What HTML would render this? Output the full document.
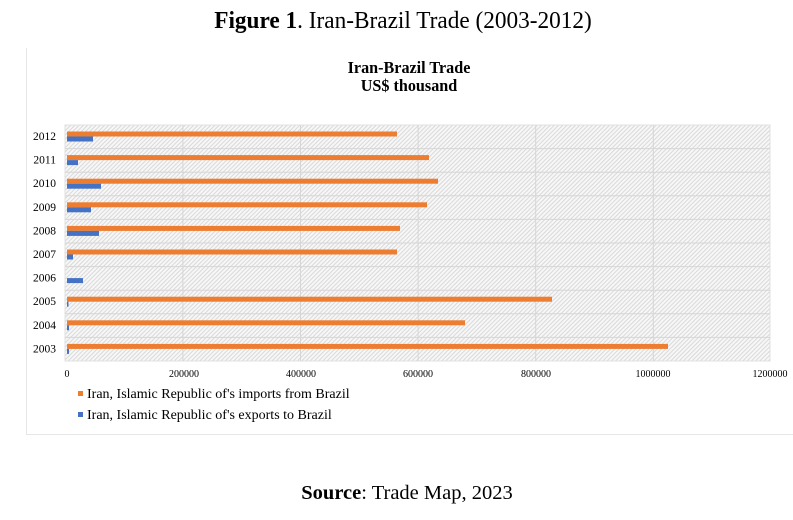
<!DOCTYPE html>
<html><head><meta charset="utf-8"><style>
html,body{margin:0;padding:0;background:#fff;width:793px;height:520px;overflow:hidden}
text{font-family:"Liberation Serif",serif}
</style></head><body>
<svg width="793" height="520" viewBox="0 0 793 520" xmlns="http://www.w3.org/2000/svg">
<defs>
<pattern id="h" width="3" height="3" patternUnits="userSpaceOnUse" patternTransform="rotate(45)">
<rect width="3" height="3" fill="#f7f7f7"/><rect width="1" height="3" fill="#d9d9d9"/>
</pattern>
</defs>
<text x="403" y="28" font-size="24" text-anchor="middle" transform="translate(403 0) scale(0.97 1) translate(-403 0)"><tspan font-weight="bold">Figure 1</tspan>. Iran-Brazil Trade (2003-2012)</text>
<line x1="26.5" y1="48" x2="26.5" y2="434" stroke="#e6e6e6"/>
<line x1="26" y1="434.5" x2="793" y2="434.5" stroke="#e6e6e6"/>
<text x="409" y="73" font-size="17" font-weight="bold" text-anchor="middle" transform="translate(409 0) scale(0.95 1) translate(-409 0)">Iran-Brazil Trade</text>
<text x="409" y="91" font-size="17" font-weight="bold" text-anchor="middle" transform="translate(409 0) scale(0.95 1) translate(-409 0)">US$ thousand</text>
<rect x="65" y="125" width="705" height="236" fill="url(#h)" stroke="#e0e0e0"/>
<g stroke="#d6d6d6" stroke-width="1">
<line x1="182.9" y1="125" x2="182.9" y2="361"/><line x1="300.5" y1="125" x2="300.5" y2="361"/>
<line x1="418.1" y1="125" x2="418.1" y2="361"/><line x1="535.7" y1="125" x2="535.7" y2="361"/>
<line x1="653.3" y1="125" x2="653.3" y2="361"/>
<line x1="65" y1="148.6" x2="770" y2="148.6"/><line x1="65" y1="172.2" x2="770" y2="172.2"/>
<line x1="65" y1="195.8" x2="770" y2="195.8"/><line x1="65" y1="219.4" x2="770" y2="219.4"/>
<line x1="65" y1="243" x2="770" y2="243"/><line x1="65" y1="266.6" x2="770" y2="266.6"/>
<line x1="65" y1="290.2" x2="770" y2="290.2"/><line x1="65" y1="313.8" x2="770" y2="313.8"/>
<line x1="65" y1="337.4" x2="770" y2="337.4"/>
</g>
<g fill="#ed7d31">
<rect x="67" y="131.5" width="330" height="5"/>
<rect x="67" y="155.1" width="362" height="5"/>
<rect x="67" y="178.7" width="371" height="5"/>
<rect x="67" y="202.3" width="360" height="5"/>
<rect x="67" y="225.9" width="333" height="5"/>
<rect x="67" y="249.5" width="330" height="5"/>
<rect x="67" y="296.7" width="485" height="5"/>
<rect x="67" y="320.3" width="398" height="5"/>
<rect x="67" y="343.9" width="601" height="5"/>
</g>
<g fill="#4472c4">
<rect x="67" y="136.5" width="26" height="5"/>
<rect x="67" y="160.1" width="11" height="5"/>
<rect x="67" y="183.7" width="34" height="5"/>
<rect x="67" y="207.3" width="24" height="5"/>
<rect x="67" y="230.9" width="32" height="5"/>
<rect x="67" y="254.5" width="6" height="5"/>
<rect x="67" y="278.1" width="16" height="5"/>
<rect x="67" y="301.7" width="1.5" height="5"/>
<rect x="67" y="325.3" width="2" height="5"/>
<rect x="67" y="348.9" width="2" height="5"/>
</g>
<g font-size="11.5" text-anchor="end">
<text x="56" y="140">2012</text><text x="56" y="163.6">2011</text><text x="56" y="187.2">2010</text>
<text x="56" y="210.8">2009</text><text x="56" y="234.4">2008</text><text x="56" y="258">2007</text>
<text x="56" y="281.6">2006</text><text x="56" y="305.2">2005</text><text x="56" y="328.8">2004</text>
<text x="56" y="352.4">2003</text>
</g>
<g font-size="10" text-anchor="middle">
<text x="67" y="377">0</text><text x="184" y="377">200000</text><text x="301" y="377">400000</text>
<text x="418" y="377">600000</text><text x="536" y="377">800000</text><text x="653" y="377">1000000</text>
<text x="770" y="377">1200000</text>
</g>
<rect x="78" y="391" width="5" height="5" fill="#ed7d31"/>
<text x="87" y="398" font-size="14">Iran, Islamic Republic of's imports from Brazil</text>
<rect x="78" y="412" width="5" height="5" fill="#4472c4"/>
<text x="87" y="419" font-size="14">Iran, Islamic Republic of's exports to Brazil</text>
<text x="407" y="499" font-size="20.5" text-anchor="middle"><tspan font-weight="bold">Source</tspan>: Trade Map, 2023</text>
</svg>
</body></html>
